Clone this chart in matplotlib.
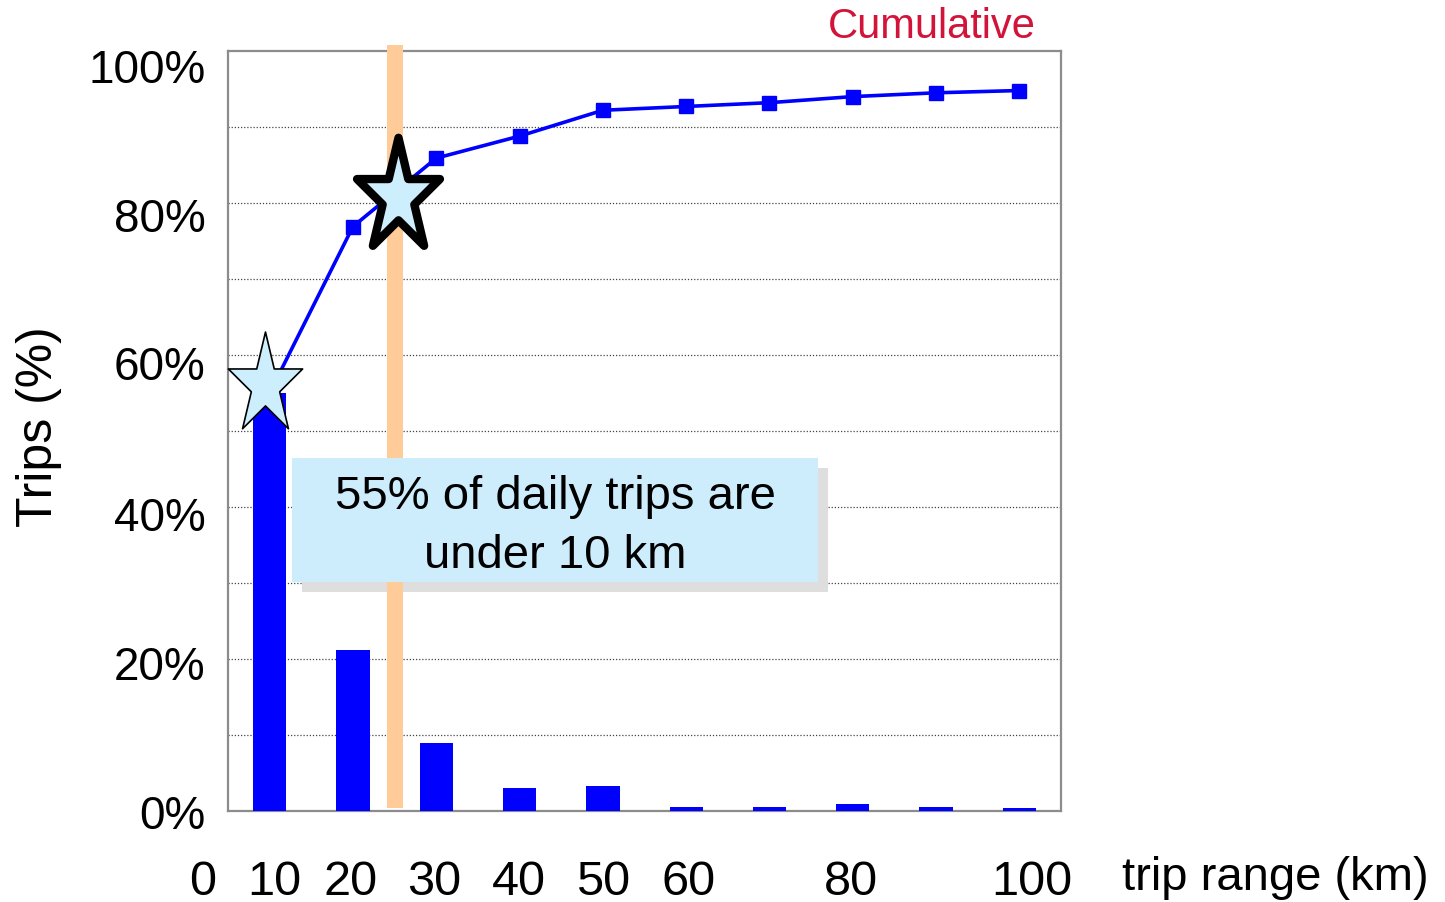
import numpy as np
import matplotlib
matplotlib.use("Agg")
import matplotlib.pyplot as plt
from matplotlib.path import Path
from matplotlib.markers import MarkerStyle
from matplotlib.patches import Rectangle

plt.rcParams['font.family'] = ['Liberation Sans', 'DejaVu Sans']

# data
bins = np.arange(10)  # one slot per range class
share = [55.0, 21.1, 8.9, 3.0, 3.3, 0.5, 0.5, 0.9, 0.5, 0.3]
cumulative = [55.0, 76.9, 85.9, 88.8, 92.2, 92.7, 93.2, 94.0, 94.5, 94.8]
x_labels = ['0', '10', '20', '30', '40', '50', '60', '80', '100']
x_label_pos = [-0.30, 0.55, 1.47, 2.47, 3.49, 4.50, 5.53, 7.48, 9.65]
y_labels = ['0%', '20%', '40%', '60%', '80%', '100%']
y_label_pos = [0, 19.6, 39.2, 59.0, 78.6, 98.2]
star_x = [0.44, 2.04]
star_y = [56.0, 80.8]
marker_range = 2.0   # orange highlight at about 25 km
note = "55% of daily trips are\nunder 10 km"

# star squeezed horizontally like the original
ang_out = np.deg2rad(90 + 72 * np.arange(5))
ang_in = ang_out + np.deg2rad(36)
verts = []
for a, b in zip(ang_out, ang_in):
    verts.append((np.cos(a) * 0.73, np.sin(a)))
    verts.append((0.382 * np.cos(b) * 0.73, 0.382 * np.sin(b)))
verts.append(verts[0])
codes = [Path.MOVETO] + [Path.LINETO] * 9 + [Path.CLOSEPOLY]
star_path = Path(verts, codes)

fig = plt.figure(figsize=(14.45, 9.03), dpi=100)
ax = fig.add_axes([0.1578, 0.1011, 0.5765, 0.8413])

ax.bar(bins + 0.5, share, width=0.40, color='#0000ff', zorder=3)
ax.plot(bins + 0.5, cumulative, color='#0000ff', lw=2.6, marker='s', ms=9.5,
        zorder=5)

# orange highlight bar (sticks slightly above frame)
ax.add_patch(Rectangle((marker_range - 0.095, 0.35), 0.19, 100.4,
                       facecolor='#ffcc99', edgecolor='none', zorder=4,
                       clip_on=False))

# note box with shadow
ax.add_patch(Rectangle((0.89, 28.8), 6.31, 16.3, facecolor='#dedede',
                       edgecolor='none', zorder=3.5))
ax.add_patch(Rectangle((0.77, 30.1), 6.31, 16.3, facecolor='#cdecfc',
                       edgecolor='none', zorder=6))
ax.text(3.93, 37.5, note, ha='center', va='center', fontsize=34,
        linespacing=1.45, zorder=7)

# stars
ax.plot(star_x[0], star_y[0], linestyle='none',
        marker=MarkerStyle(star_path, joinstyle='miter'), ms=77,
        mfc='#cdeefd', mec='black', mew=1.2, zorder=8, clip_on=False)
ax.plot(star_x[1], star_y[1], linestyle='none',
        marker=MarkerStyle(star_path, joinstyle='miter'), ms=86,
        mfc='#cdeefd', mec='black', mew=6, zorder=8, clip_on=False)

ax.set_xlim(0, 10)
ax.set_ylim(0, 100)

ax.set_yticks(y_label_pos)
ax.set_yticklabels(y_labels, fontsize=33)
ax.set_yticks(np.arange(10, 100, 10), minor=True)
ax.tick_params(axis='y', which='both', length=0, pad=16)
ax.grid(which='minor', axis='y', linestyle=(0, (1, 1.5)), color='#444444',
        lw=0.9)
ax.set_xticks([])

for p, t in zip(x_label_pos, x_labels):
    ax.text(p, -0.1096, t, transform=ax.get_xaxis_transform(), ha='center',
            va='baseline', fontsize=35)

for s in ax.spines.values():
    s.set_color('#8c8c8c')
    s.set_linewidth(1.6)

fig.text(39 / 1445, 1 - 427 / 903, 'Trips (%)', rotation=90, ha='center',
         va='center', fontsize=36)
fig.text(1275 / 1445, 1 - 878 / 903, 'trip range (km)', ha='center',
         va='center', fontsize=34)
fig.text(932 / 1445, 1 - 27 / 903, 'Cumulative', ha='center', va='center',
         fontsize=30, color='#d2143a')

fig.savefig('out.png', dpi=100)
